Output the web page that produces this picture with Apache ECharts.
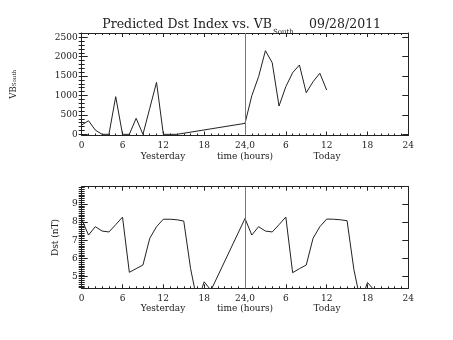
<!DOCTYPE html>
<html>
<head>
<meta charset="utf-8">
<script src="https://cdn.jsdelivr.net/npm/echarts@6/dist/echarts.min.js"></script>
<style>
  html, body { margin: 0; padding: 0; background: #fff; }
  #chart { width: 453px; height: 340px; }
</style>
</head>
<body>
<div id="chart"></div>
<script>
// Southward solar-wind driver (VB_South), hourly; 0..23 = yesterday, 24..47 = today
const vbHours = [0, 1, 2, 3, 4, 5, 6, 7, 8, 9, 10, 11, 12, 13, 14,
                 24, 25, 26, 27, 28, 29, 30, 31, 32, 33, 34, 35, 36];
const vbSouth = [240, 350, 110, 0, 0, 970, 0, 0, 412, 0, 670, 1340, 0, 0, 0,
                 283, 995, 1485, 2155, 1845, 729, 1227, 1588, 1786, 1072, 1356, 1572, 1142];

// Predicted Dst index, hourly
const dstHours = [0, 1, 2, 3, 4, 5, 6, 7, 8, 9, 10, 11, 12, 13, 14, 15, 16, 17, 18, 19,
                  24, 25, 26, 27, 28, 29, 30, 31, 32, 33, 34, 35, 36, 37, 38, 39, 40, 41, 42, 43];
const dstValues = [8.16, 7.29, 7.75, 7.51, 7.46, 7.86, 8.28, 5.24, 5.44, 5.64, 7.11, 7.75, 8.16, 8.16, 8.13, 8.06, 5.45, 3.6, 4.72, 4.25,
                   8.2, 7.29, 7.75, 7.51, 7.46, 7.86, 8.28, 5.22, 5.44, 5.64, 7.11, 7.75, 8.17, 8.16, 8.13, 8.08, 5.4, 3.6, 4.68, 4.25];

// Axis ticks and their labels
const hourTicks = [0, 6, 12, 18, 24, 30, 36, 42, 48];
const hourLabels = ['0', '6', '12', '18', '24,0', '6', '12', '18', '24'];
const vbTicks = [0, 500, 1000, 1500, 2000, 2500];
const dstTicks = [5, 6, 7, 8, 9];

const FONT = 'DejaVu Serif';
const INK = '#222';

const VB_MIN = -30, VB_MAX = 2610;
const DST_MIN = 4.36, DST_MAX = 9.95;

function steps(from, to, step) {
  const out = [];
  for (let v = from; v <= to + 1e-9; v += step) out.push(Math.round(v * 1000) / 1000);
  return out;
}
const vbMinor = steps(0, 2600, 100);
const dstMinor = steps(4.4, 9.9, 0.1);

function hourAxes(gridIndex) {
  const base = {
    type: 'value', gridIndex, min: 0, max: 48, interval: 6,
    splitLine: { show: false },
    axisLine: { show: true, onZero: false, lineStyle: { color: INK, width: 1 } },
    axisTick: { show: true, inside: true, length: 4, lineStyle: { color: INK, width: 1 } },
    minorTick: { show: true, splitNumber: 6, length: 2, lineStyle: { color: INK, width: 1 } }
  };
  return [
    Object.assign({}, base, {
      position: 'bottom',
      axisLabel: {
        margin: 6, fontFamily: FONT, fontSize: 9, color: INK,
        formatter: v => hourLabels[hourTicks.indexOf(v)]
      }
    }),
    Object.assign({}, base, { position: 'top', axisLabel: { show: false } })
  ];
}

function valueAxes(gridIndex, min, max, major, minor, title) {
  const out = [];
  ['left', 'right'].forEach(pos => {
    const main = {
      type: 'value', gridIndex, position: pos, min, max,
      splitLine: { show: false },
      axisLine: { show: true, onZero: false, lineStyle: { color: INK, width: 1 } },
      axisTick: { show: true, inside: true, length: 6, customValues: major, lineStyle: { color: INK, width: 1 } },
      axisLabel: pos === 'left'
        ? { show: true, customValues: major, margin: 4, fontFamily: FONT, fontSize: 9, color: INK,
            formatter: v => String(v) }
        : { show: false }
    };
    if (pos === 'left') Object.assign(main, title);
    out.push(main);
    out.push({
      type: 'value', gridIndex, position: pos, min, max,
      splitLine: { show: false },
      axisLine: { show: false },
      axisTick: { show: true, inside: true, length: 3, customValues: minor, lineStyle: { color: INK, width: 1 } },
      axisLabel: { show: false }
    });
  });
  return out;
}

const vbTitle = {
  name: '{a|VB}{s|South}',
  nameLocation: 'middle', nameRotate: 90, nameGap: 64,
  nameTextStyle: {
    fontFamily: FONT, color: INK,
    rich: {
      a: { fontFamily: FONT, fontSize: 8.5, lineHeight: 8, color: INK, verticalAlign: 'top' },
      s: { fontFamily: FONT, fontSize: 5.5, lineHeight: 6, color: INK, verticalAlign: 'bottom', padding: [5, 0, 0, 0] }
    }
  }
};
const dstTitle = {
  name: 'Dst (nT)',
  nameLocation: 'middle', nameRotate: 90, nameGap: 17,
  nameTextStyle: { fontFamily: FONT, fontSize: 9, lineHeight: 10, color: INK }
};

const dayDivider = {
  symbol: 'none', silent: true, animation: false,
  label: { show: false },
  lineStyle: { color: '#777', type: 'solid', width: 1 },
  data: [{ xAxis: 24 }]
};

function txt(x, y, text, size, align) {
  return {
    type: 'text', x, y, silent: true,
    style: {
      text, fill: INK, font: size + 'px "' + FONT + '"',
      align, verticalAlign: 'middle', textAlign: align, textVerticalAlign: 'middle'
    }
  };
}

const chart = echarts.init(document.getElementById('chart'), null, { renderer: 'canvas' });
chart.setOption({
  animation: false,
  backgroundColor: '#fff',
  grid: [
    { left: 81.7, top: 33, width: 326.6, height: 102.5, outerBoundsMode: 'none', containLabel: false },
    { left: 81.7, top: 186.7, width: 326.6, height: 101.6, outerBoundsMode: 'none', containLabel: false }
  ],
  xAxis: [].concat(hourAxes(0), hourAxes(1)),
  yAxis: [].concat(
    valueAxes(0, VB_MIN, VB_MAX, vbTicks, vbMinor, vbTitle),
    valueAxes(1, DST_MIN, DST_MAX, dstTicks, dstMinor, dstTitle)
  ),
  series: [
    {
      type: 'line', xAxisIndex: 0, yAxisIndex: 0,
      data: vbHours.map((h, i) => [h, vbSouth[i]]),
      symbol: 'none', clip: true,
      lineStyle: { color: INK, width: 1 },
      markLine: dayDivider
    },
    {
      type: 'line', xAxisIndex: 2, yAxisIndex: 4,
      data: dstHours.map((h, i) => [h, dstValues[i]]),
      symbol: 'none', clip: true,
      lineStyle: { color: INK, width: 1 },
      markLine: dayDivider
    }
  ],
  graphic: [
    txt(272, 25, 'Predicted Dst Index vs. VB', 12.5, 'right'),
    txt(273, 32, 'South', 7, 'left'),
    txt(309, 25, '09/28/2011', 12.5, 'left'),
    txt(163, 157, 'Yesterday', 9, 'center'),
    txt(245, 157, 'time (hours)', 9, 'center'),
    txt(327, 157, 'Today', 9, 'center'),
    txt(163, 309, 'Yesterday', 9, 'center'),
    txt(245, 309, 'time (hours)', 9, 'center'),
    txt(327, 309, 'Today', 9, 'center')
  ]
});
</script>
</body>
</html>
